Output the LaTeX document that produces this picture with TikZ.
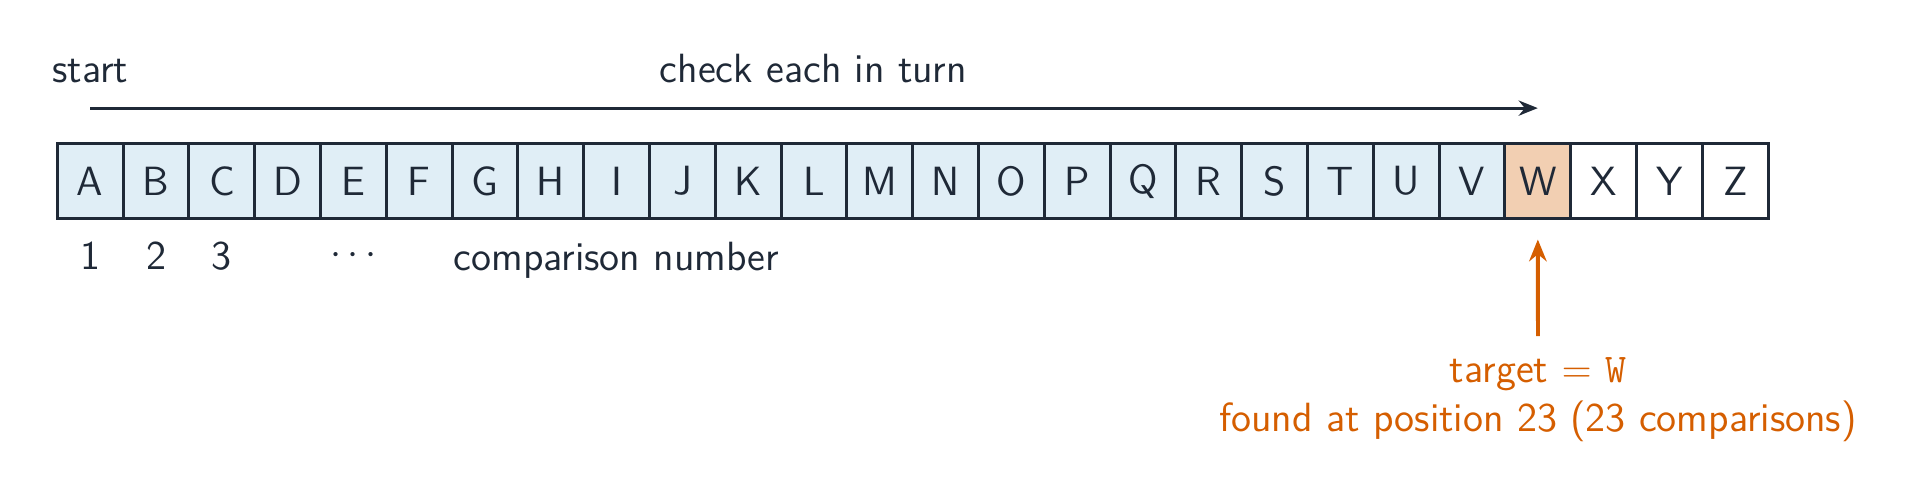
\documentclass[tikz,border=0pt]{standalone}
\usetikzlibrary{arrows.meta,calc}
\definecolor{ink}{HTML}{1F2937}
\definecolor{cellblue}{HTML}{E0EEF6}
\definecolor{hitfill}{HTML}{F2CFB2}
\definecolor{accent}{HTML}{D55E00}
\begin{document}
\begin{tikzpicture}[x=0.0106383cm, y=-0.0106383cm,
  font=\sffamily\fontsize{12.35}{14.9}\selectfont, text=ink,
  cellbox/.style={draw=ink, line width=0.9pt, minimum width=0.7cm, minimum height=0.8cm, inner sep=0pt, anchor=center},
  numlabel/.style={inner sep=0pt, anchor=center},
  flowarrow/.style={draw=ink, line width=0.9pt, -{Stealth[length=5.8pt,width=4.6pt]}},
  hitarrow/.style={draw=accent, line width=1.2pt, -{Stealth[length=6.6pt,width=5.3pt]}},
  hitlabel/.style={text=accent, align=center, anchor=north}]
\useasboundingbox (0,0) rectangle (1910,495);
% cells
\foreach \L [count=\i from 0] in {A,B,C,D,E,F,G,H,I,J,K,L,M,N,O,P,Q,R,S,T,U,V}
  \node[cellbox, fill=cellblue] (\L) at (90.2+65.8*\i,181.2) {\L};
\node[cellbox, fill=hitfill] (W) at (90.2+65.8*22,181.2) {W};
\foreach \L [count=\i from 23] in {X,Y,Z}
  \node[cellbox, fill=white] (\L) at (90.2+65.8*\i,181.2) {\L};
% top labels and arrow
\node[anchor=base] (start) at (90.2,82.5) {start};
\node[anchor=base] (chk) at (813.5,82) {check each in turn};
\draw[flowarrow] ($(A.north)+(0,-34)$) -- ($(W.north)+(0,-34)$);
% comparison numbers
\node[numlabel] (n1) at (90.2,256) {1};
\node[numlabel] (n2) at (156.0,256) {2};
\node[numlabel] (n3) at (221.8,256) {3};
\node[numlabel] (ndots) at (353.4,256) {$\cdots$};
\node[anchor=base west, inner sep=0pt] (cmp) at (453,270) {comparison number};
% target label
\node[hitlabel] (lbl) at (1538,346) {target $=$ \texttt{W}\\found at position 23 (23 comparisons)};
\draw[hitarrow, shorten <=3pt, shorten >=5.8pt] (lbl.north) -- (W.south);
\end{tikzpicture}
\end{document}
